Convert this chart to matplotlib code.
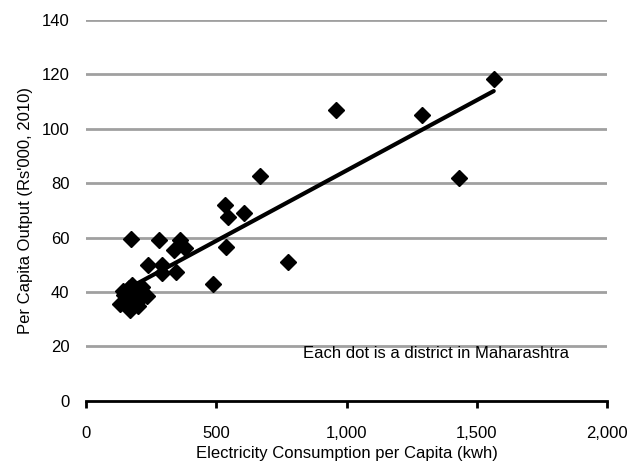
import matplotlib
matplotlib.use("Agg")
import matplotlib.pyplot as plt
import numpy as np

elec = [1565, 960, 1290, 1430, 668, 777, 607, 534, 544, 536, 489,
        361, 380, 338, 345, 280, 290, 290, 239, 233, 171,
        215, 200, 143, 130, 169, 150, 160, 165, 175, 185, 190, 155, 145, 200]
output = [118.5, 107, 105, 82, 82.5, 51, 69, 72, 67.5, 56.5, 43,
          59, 56, 55.5, 47.3, 59, 49.8, 47, 49.8, 38.5, 59.5,
          42, 35, 40.5, 35.5, 33.2, 36, 38.5, 41.5, 42.5, 40, 41, 37, 39, 36.5]

xticks = [0, 500, 1000, 1500, 2000]
xticklabels = ["0", "500", "1,000", "1,500", "2,000"]
yticks = [0, 20, 40, 60, 80, 100, 120, 140]

plt.rcParams['font.family'] = ['Liberation Sans', 'DejaVu Sans']

fig = plt.figure(figsize=(6.39, 4.67), dpi=100)
ax = fig.add_axes([0.1346, 0.142, 0.8154, 0.815])

for y in yticks[1:]:
    ax.axhline(y, color='#a0a0a0', lw=2, zorder=0)

x = np.array(elec, dtype=float)
y = np.array(output, dtype=float)
ax.plot(x, y, 'D', color='black', markersize=8.5, zorder=3)
m, b = np.polyfit(x, y, 1)
xl = np.array([x.min(), x.max()])
ax.plot(xl, m * xl + b, color='black', lw=3, zorder=2, solid_capstyle='round')

ax.set_xlim(0, 2000)
ax.set_ylim(0, 140)
ax.set_xticks(xticks)
ax.set_xticklabels(xticklabels)
ax.set_yticks(yticks)
for s in ['top', 'right', 'left']:
    ax.spines[s].set_visible(False)
ax.spines['bottom'].set_linewidth(2)
ax.tick_params(axis='x', direction='out', length=5, width=2, labelsize=12, pad=13)
ax.tick_params(axis='y', length=0, labelsize=12, pad=12)
ax.set_xlabel("Electricity Consumption per Capita (kwh)", fontsize=12, labelpad=4)
ax.set_ylabel("Per Capita Output (Rs'000, 2010)", fontsize=12, labelpad=6)
ax.text(833, 17.2, "Each dot is a district in Maharashtra", fontsize=12, va='center', ha='left')

fig.savefig("out.png", dpi=100)
